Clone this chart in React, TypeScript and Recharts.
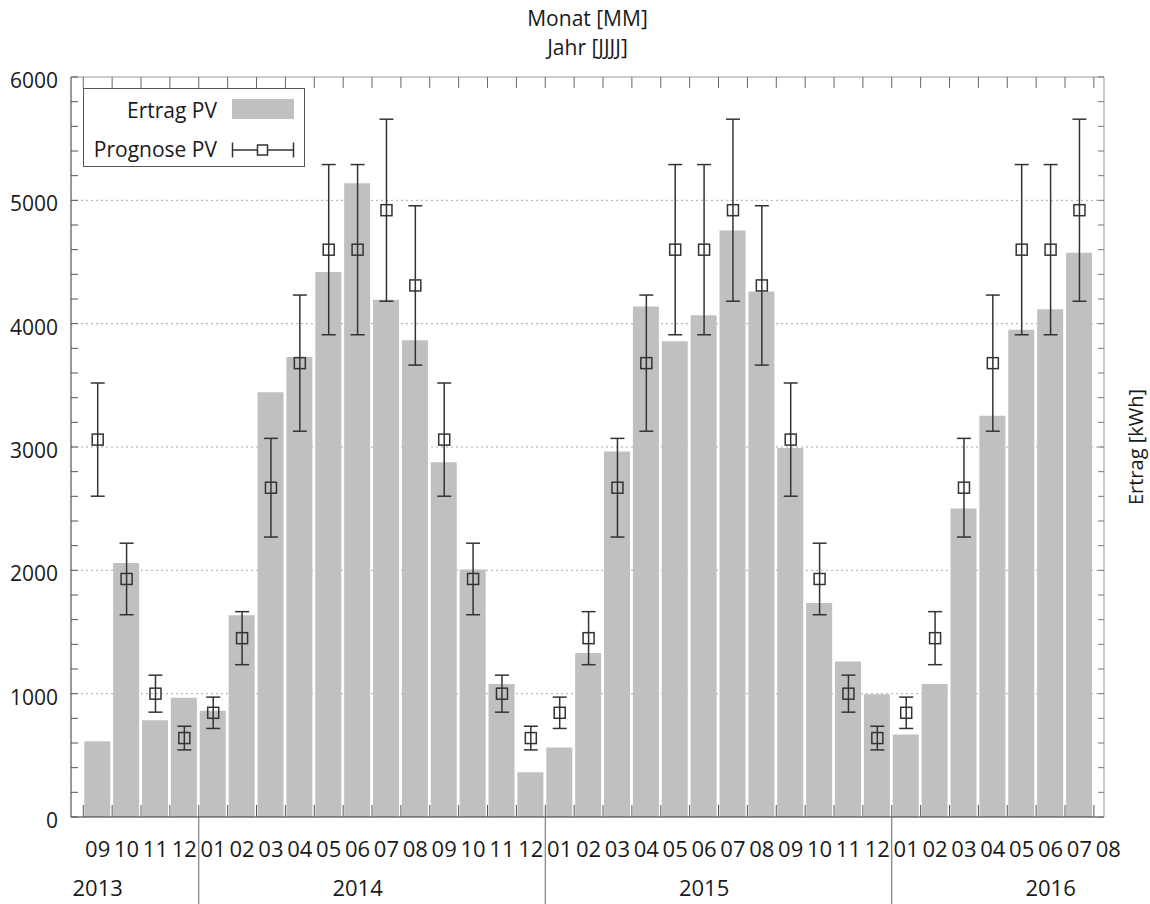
import React from "react";
import {
  ComposedChart,
  Bar,
  Scatter,
  ErrorBar,
  XAxis,
  YAxis,
  CartesianGrid,
  ReferenceLine,
  Legend,
} from "recharts";

// Monate (JJJJ-MM); der letzte Eintrag hat keinen Wert und steht nur als Beschriftung am rechten Rand
const months = [
  "2013-09", "2013-10", "2013-11", "2013-12",
  "2014-01", "2014-02", "2014-03", "2014-04", "2014-05", "2014-06",
  "2014-07", "2014-08", "2014-09", "2014-10", "2014-11", "2014-12",
  "2015-01", "2015-02", "2015-03", "2015-04", "2015-05", "2015-06",
  "2015-07", "2015-08", "2015-09", "2015-10", "2015-11", "2015-12",
  "2016-01", "2016-02", "2016-03", "2016-04", "2016-05", "2016-06",
  "2016-07", "2016-08",
];

// Ertrag PV [kWh]
const ertrag = [
  615, 2060, 785, 967,
  862, 1635, 3443, 3729, 4418, 5139, 4193, 3866, 2876, 2006, 1079, 362,
  564, 1329, 2964, 4140, 3858, 4068, 4756, 4261, 2992, 1736, 1261, 995,
  669, 1079, 2501, 3254, 3951, 4116, 4575,
];

// Prognose PV [kWh]
const prognose = [
  3060, 1930, 1000, 640,
  845, 1450, 2670, 3680, 4600, 4600, 4920, 4310, 3060, 1930, 1000, 640,
  845, 1450, 2670, 3680, 4600, 4600, 4920, 4310, 3060, 1930, 1000, 640,
  845, 1450, 2670, 3680, 4600, 4600, 4920,
];

// Streuung der Prognose (+/-) [kWh]
const prognoseFehler = [
  459, 290, 150, 96,
  127, 215, 400, 552, 690, 690, 738, 646, 459, 290, 150, 96,
  127, 215, 400, 552, 690, 690, 738, 646, 459, 290, 150, 96,
  127, 215, 400, 552, 690, 690, 738,
];

const yMajor = [0, 1000, 2000, 3000, 4000, 5000, 6000];
const yTicks = [
  0, 200, 400, 600, 800, 1000, 1200, 1400, 1600, 1800, 2000, 2200, 2400,
  2600, 2800, 3000, 3200, 3400, 3600, 3800, 4000, 4200, 4400, 4600, 4800,
  5000, 5200, 5400, 5600, 5800, 6000,
];
const gridValues = [1000, 2000, 3000, 4000, 5000];

const W = 1150;
const H = 904;
const TOP = 77;
const LEFT_W = 71;
const RIGHT_W = 46;
const BOTTOM_H = 87;
const X_MIN = 0.075;
const X_MAX = 35.85;
const SLOT = (W - LEFT_W - RIGHT_W) / (X_MAX - X_MIN);

const FONT = '"Open Sans", sans-serif';
const INK = "#1a1a1a";

const data = ertrag.map((v, i) => ({
  x: i + 1,
  ertrag: v,
  prognose: prognose[i],
  err: prognoseFehler[i],
}));

// Grenzen zwischen den Monaten (Ticks sitzen zwischen den Balken)
const boundaries = months.map((_, i) => i + 0.5);

// Jahresbeschriftung unter dem Juni, sonst unter dem ersten Monat des Jahres
const yearLabelSlot: Record<number, string> = {};
const yearStartSlot: Record<number, boolean> = {};
{
  const years = Array.from(new Set(months.map((m) => m.slice(0, 4))));
  years.forEach((y) => {
    const june = months.indexOf(`${y}-06`);
    const first = months.findIndex((m) => m.startsWith(y));
    yearLabelSlot[june >= 0 ? june : first] = y;
    if (first > 0) yearStartSlot[first] = true;
  });
}

// Unten: Monat + Jahr; oben: nur Tickstriche am Rahmen
const MonthTick = (props: any) => {
  const { x, y, payload } = props;
  const k = Math.round(payload.value - 0.5);
  const cx = x + SLOT / 2;
  return (
    <g>
      <line x1={x} x2={x} y1={y} y2={y - 12} stroke="#555" />
      <line x1={x} x2={x} y1={TOP} y2={TOP + 11} stroke="#666" />
      {yearStartSlot[k] && (
        <line x1={x} x2={x} y1={y} y2={y + BOTTOM_H} stroke="#666" />
      )}
      <text
        x={cx}
        y={y + 31}
        textAnchor="middle"
        dominantBaseline="central"
        fontFamily={FONT}
        fontSize={22}
        fill={INK}
      >
        {months[k].slice(5)}
      </text>
      {yearLabelSlot[k] && (
        <text
          x={cx}
          y={y + 70}
          textAnchor="middle"
          dominantBaseline="central"
          fontFamily={FONT}
          fontSize={22}
          fill={INK}
        >
          {yearLabelSlot[k]}
        </text>
      )}
    </g>
  );
};

const LeftTick = (props: any) => {
  const { x, y, payload } = props;
  return (
    <g>
      <line x1={x} x2={x + 7} y1={y} y2={y} stroke="#555" />
      {yMajor.includes(payload.value) && (
        <text
          x={x - 13}
          y={y + 3}
          textAnchor="end"
          dominantBaseline="central"
          fontFamily={FONT}
          fontSize={21}
          fill={INK}
        >
          {payload.value}
        </text>
      )}
    </g>
  );
};

const RightTick = (props: any) => {
  const { x, y } = props;
  return <line x1={x} x2={x - 6} y1={y} y2={y} stroke="#777" />;
};

const Title = (props: any) => {
  const vb = props.viewBox;
  const cx = vb.x + vb.width / 2;
  return (
    <g fontFamily={FONT} fontSize={21} fill={INK} textAnchor="middle">
      <text x={cx} y={TOP - 59} dominantBaseline="central">
        Monat [MM]
      </text>
      <text x={cx} y={TOP - 30} dominantBaseline="central">
        Jahr [JJJJ]
      </text>
    </g>
  );
};

const RightLabel = (props: any) => {
  const vb = props.viewBox;
  const lx = vb.x + 31;
  const ly = vb.y + vb.height / 2;
  return (
    <text
      x={lx}
      y={ly}
      transform={`rotate(-90 ${lx} ${ly})`}
      textAnchor="middle"
      dominantBaseline="central"
      fontFamily={FONT}
      fontSize={20}
      fill={INK}
    >
      Ertrag [kWh]
    </text>
  );
};

const Square = (props: any) => {
  const { cx, cy } = props;
  if (cx == null || cy == null) return null;
  return (
    <rect
      x={cx - 5.5}
      y={cy - 5.5}
      width={11}
      height={11}
      fill="none"
      stroke="#333"
      strokeWidth={1.5}
    />
  );
};

const LegendBox = () => (
  <div
    style={{
      width: 222,
      height: 79,
      boxSizing: "border-box",
      border: "1px solid #555",
      background: "#fff",
      position: "relative",
      fontFamily: FONT,
      fontSize: 21,
      color: INK,
    }}
  >
    <div
      style={{ position: "absolute", right: 87, top: 7, lineHeight: "28px" }}
    >
      Ertrag PV
    </div>
    <div
      style={{
        position: "absolute",
        left: 148,
        top: 10,
        width: 62,
        height: 20,
        background: "#c0c0c0",
      }}
    />
    <div
      style={{ position: "absolute", right: 87, top: 46, lineHeight: "28px" }}
    >
      Prognose PV
    </div>
    <svg
      width={64}
      height={20}
      style={{ position: "absolute", left: 147, top: 51 }}
    >
      <line x1={1} x2={63} y1={10} y2={10} stroke="#333" strokeWidth={1.5} />
      <line x1={1.5} x2={1.5} y1={2.5} y2={17.5} stroke="#333" strokeWidth={1.5} />
      <line x1={62.5} x2={62.5} y1={2.5} y2={17.5} stroke="#333" strokeWidth={1.5} />
      <rect x={26.5} y={5} width={10} height={10} fill="#fff" stroke="#333" strokeWidth={1.5} />
    </svg>
  </div>
);

export default function App() {
  return (
    <div style={{ position: "absolute", left: 0, top: 0, background: "#fff" }}>
      <ComposedChart
        width={W}
        height={H}
        data={data}
        margin={{ top: TOP, right: 0, bottom: 0, left: 0 }}
      >
        <CartesianGrid
          vertical={false}
          horizontalValues={gridValues}
          stroke="#aaa"
          strokeDasharray="2 3"
        />
        <ReferenceLine y={6000} stroke="#999" ifOverflow="visible" />
        <XAxis
          dataKey="x"
          type="number"
          domain={[X_MIN, X_MAX]}
          allowDataOverflow
          ticks={boundaries}
          interval={0}
          height={BOTTOM_H}
          tickSize={0}
          tickMargin={0}
          tickLine={false}
          tick={MonthTick}
          axisLine={{ stroke: "#333" }}
          label={{ content: Title }}
        />
        <YAxis
          type="number"
          domain={[0, 6000]}
          allowDataOverflow
          ticks={yTicks}
          interval={0}
          width={LEFT_W}
          tickSize={0}
          tickMargin={0}
          tickLine={false}
          tick={LeftTick}
          axisLine={{ stroke: "#333" }}
        />
        <YAxis
          yAxisId="right"
          orientation="right"
          type="number"
          domain={[0, 6000]}
          allowDataOverflow
          ticks={yTicks}
          interval={0}
          width={RIGHT_W}
          tickSize={0}
          tickMargin={0}
          tickLine={false}
          tick={RightTick}
          axisLine={{ stroke: "#999" }}
          label={{ content: RightLabel }}
        />
        <Legend
          layout="horizontal"
          verticalAlign="middle"
          align="center"
          content={LegendBox}
          wrapperStyle={{ top: 88, left: 83, width: 222, height: 79 }}
        />
        <Bar
          dataKey="ertrag"
          name="Ertrag PV"
          fill="#c0c0c0"
          barSize={26}
          isAnimationActive={false}
        />
        <Scatter
          dataKey="prognose"
          name="Prognose PV"
          shape={Square}
          isAnimationActive={false}
        >
          <ErrorBar
            dataKey="err"
            direction="y"
            width={7}
            stroke="#333"
            strokeWidth={1.5}
            isAnimationActive={false}
          />
        </Scatter>
      </ComposedChart>
    </div>
  );
}
